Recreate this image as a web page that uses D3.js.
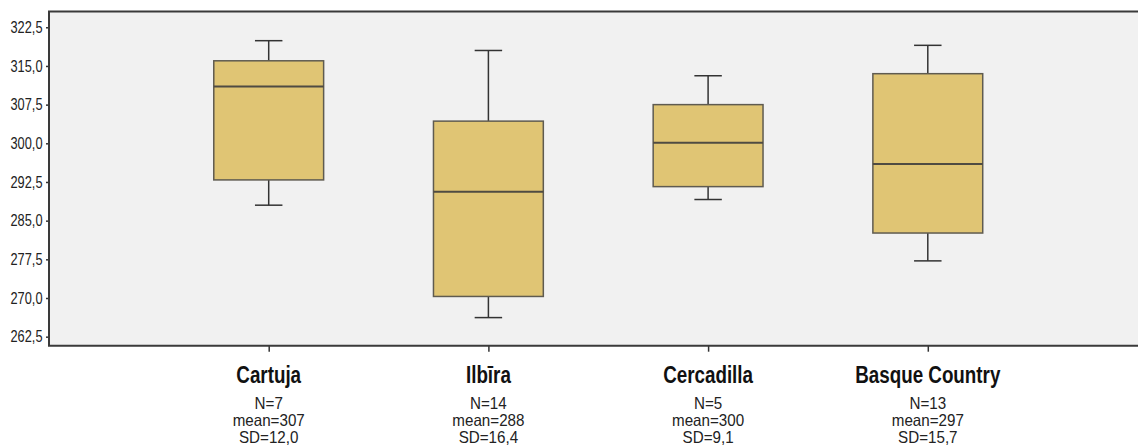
<!DOCTYPE html>
<html>
<head>
<meta charset="utf-8">
<script src="https://cdn.jsdelivr.net/npm/d3@7/dist/d3.min.js"></script>
<style>
  html, body { margin: 0; padding: 0; background: #ffffff; }
  svg { display: block; }
</style>
</head>
<body>
<svg id="chart" width="1138" height="446"></svg>
<script>
const categories = ["Cartuja", "Ilbīra", "Cercadilla", "Basque Country"];
const whiskerLow  = [288.0, 266.2, 289.1, 277.2];
const q1Values    = [292.9, 270.3, 291.6, 282.6];
const medians     = [311.0, 290.6, 300.1, 296.0];
const q3Values    = [316.0, 304.3, 307.5, 313.5];
const whiskerHigh = [319.9, 318.0, 313.1, 319.0];
const nValues     = [7, 14, 5, 13];
const meanValues  = [307, 288, 300, 297];
const sdLabels    = ["12,0", "16,4", "9,1", "15,7"];
const yTicks      = [262.5, 270.0, 277.5, 285.0, 292.5, 300.0, 307.5, 315.0, 322.5];

(function () {
const svg = d3.select("#chart");
const pLeft = 49, pRight = 1147.5, pTop = 11.5, pBottom = 345.7;
const font = "'Liberation Sans', Arial, sans-serif";

const y = d3.scaleLinear().domain([260.75, 325.56]).range([pBottom, pTop]);
const x = d3.scalePoint().domain(categories).range([pLeft, pRight]).padding(1);
const boxW = x.step() * 0.5;
const capW = boxW * 0.25;

// plot background
svg.append("rect").attr("x", pLeft).attr("y", pTop)
  .attr("width", pRight - pLeft).attr("height", pBottom - pTop)
  .attr("fill", "#f1f1f1");

const data = categories.map((c, i) => ({
  c, lo: whiskerLow[i], q1: q1Values[i], med: medians[i], q3: q3Values[i], hi: whiskerHigh[i],
  n: nValues[i], mean: meanValues[i], sd: sdLabels[i]
}));

const boxes = svg.append("g").selectAll("g.box").data(data).join("g").attr("class", "box");

// whiskers
boxes.append("line").attr("x1", d => x(d.c)).attr("x2", d => x(d.c))
  .attr("y1", d => y(d.hi)).attr("y2", d => y(d.q3))
  .attr("stroke", "#333").attr("stroke-width", 1.5);
boxes.append("line").attr("x1", d => x(d.c)).attr("x2", d => x(d.c))
  .attr("y1", d => y(d.q1)).attr("y2", d => y(d.lo))
  .attr("stroke", "#333").attr("stroke-width", 1.5);
// caps
boxes.append("line").attr("x1", d => x(d.c) - capW / 2).attr("x2", d => x(d.c) + capW / 2)
  .attr("y1", d => y(d.hi)).attr("y2", d => y(d.hi))
  .attr("stroke", "#333").attr("stroke-width", 1.5);
boxes.append("line").attr("x1", d => x(d.c) - capW / 2).attr("x2", d => x(d.c) + capW / 2)
  .attr("y1", d => y(d.lo)).attr("y2", d => y(d.lo))
  .attr("stroke", "#333").attr("stroke-width", 1.5);
// box
boxes.append("rect").attr("x", d => x(d.c) - boxW / 2).attr("width", boxW)
  .attr("y", d => y(d.q3)).attr("height", d => y(d.q1) - y(d.q3))
  .attr("fill", "#e0c574").attr("stroke", "#5f5b50").attr("stroke-width", 1.5);
// median
boxes.append("line").attr("x1", d => x(d.c) - boxW / 2).attr("x2", d => x(d.c) + boxW / 2)
  .attr("y1", d => y(d.med)).attr("y2", d => y(d.med))
  .attr("stroke", "#4f4b42").attr("stroke-width", 2);

// Y axis
const fmt = v => d3.format(".1f")(v).replace(".", ",");
const yAxis = svg.append("g").attr("transform", `translate(${pLeft},0)`)
  .call(d3.axisLeft(y).tickValues(yTicks).tickFormat(fmt).tickSize(3).tickPadding(5));
yAxis.select(".domain").remove();
yAxis.selectAll(".tick line").attr("stroke", "#333").attr("stroke-width", 1.5);
yAxis.selectAll(".tick text")
  .attr("font-family", font).attr("font-size", 16).attr("fill", "#222")
  .attr("x", -6.5 / 0.8).attr("transform", "scale(0.8,1)");

// X axis ticks
const xAxis = svg.append("g").attr("transform", `translate(0,${pBottom})`)
  .call(d3.axisBottom(x).tickSize(6).tickFormat(""));
xAxis.select(".domain").remove();
xAxis.selectAll(".tick line").attr("stroke", "#333").attr("stroke-width", 1.5);

// frame (top, left, bottom)
svg.append("path")
  .attr("d", `M${pRight},${pTop}H${pLeft}V${pBottom}H${pRight}`)
  .attr("fill", "none").attr("stroke", "#3a3a3a").attr("stroke-width", 2);

// category labels
const labels = svg.append("g").selectAll("g").data(data).join("g")
  .attr("transform", d => `translate(${x(d.c)},0)`);
function addLine(yPos, size, weight, fill, txt, scale) {
  labels.append("g").attr("transform", `translate(0,${yPos}) scale(${scale},1)`)
    .append("text").attr("text-anchor", "middle")
    .attr("font-family", font).attr("font-weight", weight).attr("font-size", size)
    .attr("fill", fill).text(txt);
}
addLine(383, 23.5, "bold", "#111", d => d.c, 0.8);
addLine(409, 16.5, "normal", "#222", d => "N=" + d.n, 0.92);
addLine(426, 16.5, "normal", "#222", d => "mean=" + d.mean, 0.92);
addLine(442.5, 16.5, "normal", "#222", d => "SD=" + d.sd, 0.92);
})();
</script>
</body>
</html>
